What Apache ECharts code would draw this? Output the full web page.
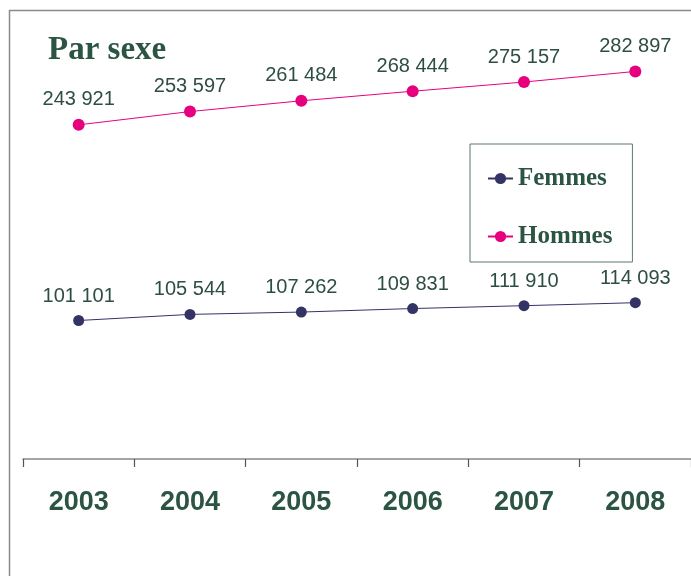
<!DOCTYPE html>
<html>
<head>
    <meta charset="utf-8">
    <title>Par sexe</title>
    <script src="https://cdn.jsdelivr.net/npm/echarts@6/dist/echarts.min.js"></script>
    <style>
        html, body { margin: 0; padding: 0; background: #fff; }
        #main { width: 691px; height: 576px; }
    </style>
</head>
<body>
<div id="main"></div>
<script type="text/javascript">
    // données
    var annees = ['2003', '2004', '2005', '2006', '2007', '2008'];
    var femmes = [101101, 105544, 107262, 109831, 111910, 114093];
    var hommes = [243921, 253597, 261484, 268444, 275157, 282897];

    var vert = '#2b5443';

    // 243921 -> "243 921"
    function fmt(p) {
        return String(p.value).replace(/\B(?=(\d{3})+(?!\d))/g, ' ');
    }

    var myChart = echarts.init(document.getElementById('main'));

    var option = {
        animation: false,
        title: {
            text: 'Par sexe',
            left: 43,
            top: 29,
            textStyle: {
                fontFamily: 'Liberation Serif',
                fontWeight: 'bold',
                fontSize: 33,
                color: vert
            }
        },
        legend: {
            data: ['Femmes', 'Hommes'],
            orient: 'vertical',
            left: 470,
            top: 144,
            padding: [22, 20, 13, 17],
            itemGap: 33,
            itemWidth: 25,
            itemHeight: 14,
            borderColor: '#5a7a6c',
            borderWidth: 1,
            textStyle: {
                fontFamily: 'Liberation Serif',
                fontWeight: 'bold',
                fontSize: 25,
                color: vert
            }
        },
        grid: {
            left: 23,
            right: 0,
            top: 48,
            bottom: 117
        },
        xAxis: {
            type: 'category',
            data: annees,
            boundaryGap: true,
            axisLine: { lineStyle: { color: '#888', width: 1.5 } },
            axisTick: { show: true, inside: false, length: 8, lineStyle: { color: '#555', width: 1.2 } },
            axisLabel: {
                margin: 30,
                fontFamily: 'Arial, Liberation Sans',
                fontWeight: 'bold',
                fontSize: 27,
                color: vert
            }
        },
        yAxis: {
            type: 'value',
            min: 0,
            max: 300000,
            show: false
        },
        graphic: [
            {
                type: 'polyline',
                shape: { points: [[9.5, 576], [9.5, 10.5], [691, 10.5]] },
                style: { stroke: '#8a8a8a', lineWidth: 1.5, fill: null }
            }
        ],
        series: [
            {
                name: 'Femmes',
                type: 'line',
                data: femmes,
                symbol: 'circle',
                symbolSize: 11,
                itemStyle: { color: '#333366' },
                lineStyle: { color: '#333366', width: 1 },
                label: {
                    show: true,
                    position: 'top',
                    distance: 9,
                    formatter: fmt,
                    fontFamily: 'Arial, Liberation Sans',
                    fontSize: 20,
                    color: '#2e4e42'
                }
            },
            {
                name: 'Hommes',
                type: 'line',
                data: hommes,
                symbol: 'circle',
                symbolSize: 12,
                itemStyle: { color: '#e6007e' },
                lineStyle: { color: '#e6007e', width: 1 },
                label: {
                    show: true,
                    position: 'top',
                    distance: 9,
                    formatter: fmt,
                    fontFamily: 'Arial, Liberation Sans',
                    fontSize: 20,
                    color: '#2e4e42'
                }
            }
        ]
    };

    myChart.setOption(option);
</script>
</body>
</html>
